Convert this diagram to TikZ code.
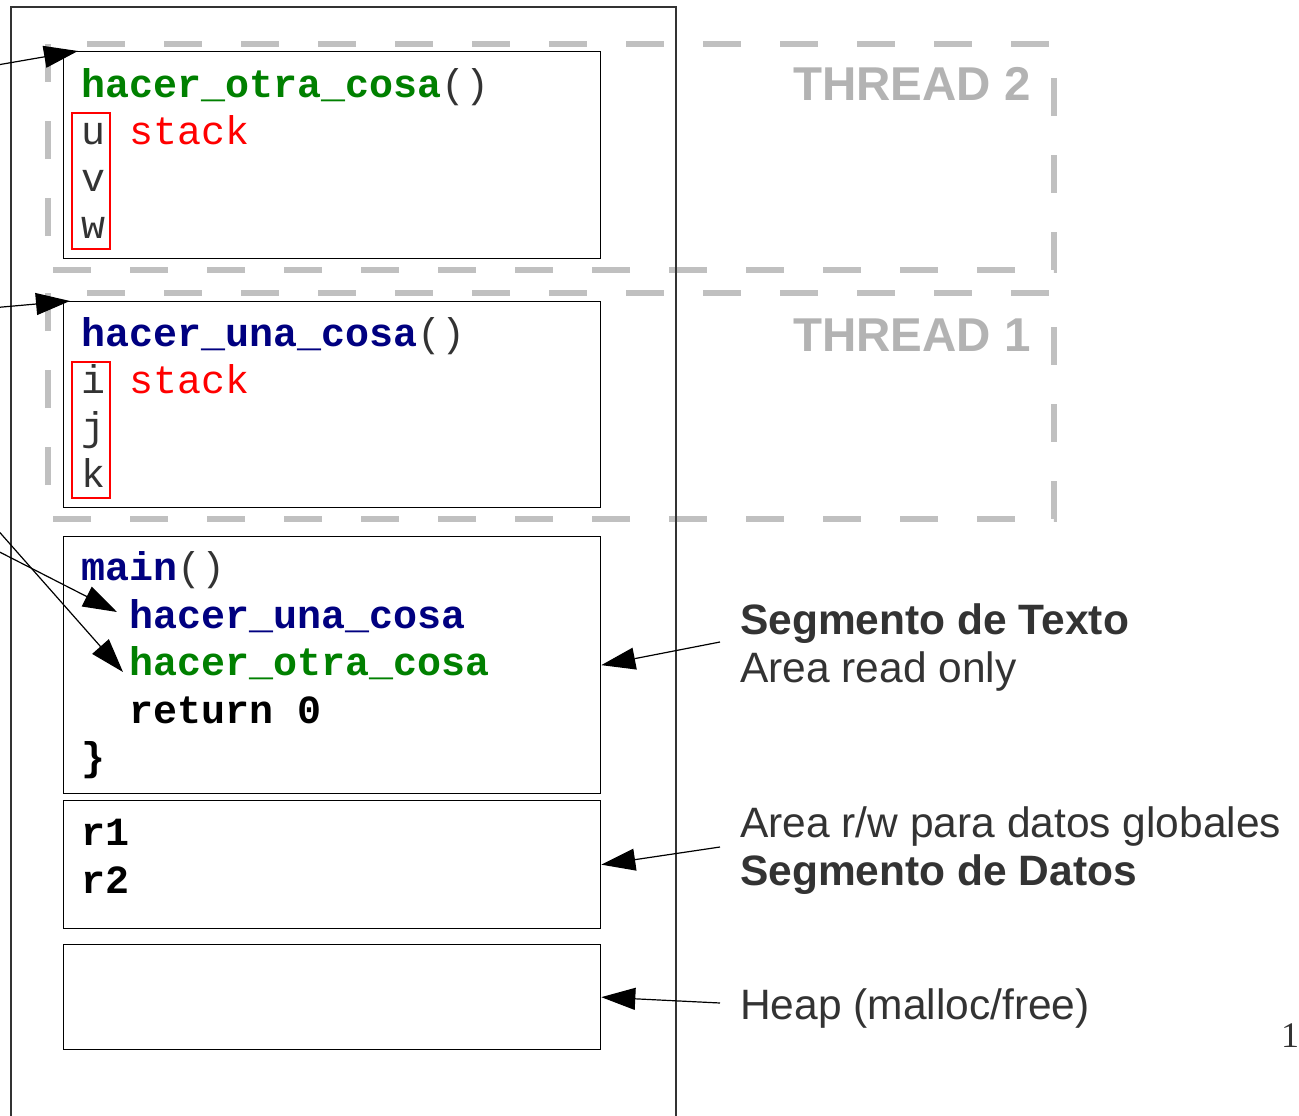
\documentclass[tikz,border=0pt]{standalone}
\usepackage{fontspec}
\usetikzlibrary{arrows.meta}
\setmainfont{Liberation Sans}
\newfontfamily\codefont{Liberation Mono}
\newfontfamily\pagefont{Liberation Serif}
\definecolor{ink}{HTML}{333333}
\definecolor{codegreen}{HTML}{008000}
\definecolor{codeblue}{HTML}{000080}
\definecolor{varred}{HTML}{FF0000}
\definecolor{dashgray}{HTML}{C0C0C0}
\definecolor{threadtext}{HTML}{B3B3B3}

\begin{document}
\begin{tikzpicture}[x=1pt, y=-1pt,
    seg/.style={draw, line width=1.3pt, minimum width=537pt, anchor=north west, inner sep=0pt},
    vars/.style={draw=varred, line width=1.6pt, minimum width=38pt, minimum height=136pt, anchor=north west, inner sep=0pt},
    code/.style={anchor=base west, inner sep=0pt, font=\codefont\fontsize{40}{47}\selectfont},
    note/.style={anchor=base west, inner sep=0pt, text=ink, font=\fontsize{42.5}{50}\selectfont},
    thread/.style={draw=dashgray, line width=6.3pt, dash pattern=on 38pt off 39pt, dash phase=38pt},
    threadlabel/.style={anchor=base east, inner sep=0pt, text=threadtext, font=\bfseries\fontsize{47.5}{55}\selectfont},
    ptr/.style={line width=1.2pt, -{Triangle[length=34pt,width=22pt]}}]
    \path[use as bounding box, clip] (0,0) rectangle (1299,1116);

    % Draw threads
    \draw[thread] (48,44) -- (1054,44) -- (1054,270) -- (48,270) -- cycle;
    \draw[thread] (48,293) -- (1054,293) -- (1054,519) -- (48,519) -- cycle;
    \node[threadlabel] (threadTwo) at (1031,100) {THREAD 2};
    \node[threadlabel] (threadOne) at (1031,351) {THREAD 1};

    % Draw memory
    \draw[draw=black!80, line width=1.1pt] (11,1130) -- (11,7) -- (676,7) -- (676,1130);
    \node[seg, minimum height=207pt] (otraStack) at (63,51) {};
    \node[seg, minimum height=206pt] (unaStack) at (63,301) {};
    \node[seg, minimum height=257pt] (textSeg) at (63,536) {};
    \node[seg, minimum height=128pt] (dataSeg) at (63,800) {};
    \node[seg, minimum height=105pt] (heapSeg) at (63,944) {};
    \node[vars] (otraVars) at (71,112) {};
    \node[vars] (unaVars) at (71,361) {};

    % Code
    \node[code, text=codegreen] (otraHead) at (81,97) {\bfseries hacer\_otra\_cosa\textcolor{ink}{\mdseries()}};
    \node[code, text=ink] (uLine) at (81,144) {u \textcolor{red}{stack}};
    \node[code, text=ink] (vLine) at (81,191) {v};
    \node[code, text=ink] (wLine) at (81,238) {w};
    \node[code, text=codeblue] (unaHead) at (81,346) {\bfseries hacer\_una\_cosa\textcolor{ink}{\mdseries()}};
    \node[code, text=ink] (iLine) at (81,393) {i \textcolor{red}{stack}};
    \node[code, text=ink] (jLine) at (81,440) {j};
    \node[code, text=ink] (kLine) at (81,487) {k};
    \node[code, text=codeblue] (mainHead) at (81,580) {\bfseries main\textcolor{ink}{\mdseries()}};
    \node[code, text=codeblue] (unaCall) at (129,628) {\bfseries hacer\_una\_cosa};
    \node[code, text=codegreen] (otraCall) at (129,675) {\bfseries hacer\_otra\_cosa};
    \node[code] (retLine) at (129,723) {\bfseries return 0};
    \node[code] (closeLine) at (81,770) {\bfseries \}};
    \node[code] (rOne) at (81,845) {\bfseries r1};
    \node[code] (rTwo) at (81,893) {\bfseries r2};

    % Labels
    \node[note] (textTitle) at (740,634) {\bfseries Segmento de Texto};
    \node[note] (textInfo) at (740,682) {Area read only};
    \node[note] (dataInfo) at (740,837) {Area r/w para datos globales};
    \node[note] (dataTitle) at (740,885) {\bfseries Segmento de Datos};
    \node[note] (heapInfo) at (740,1019) {Heap (malloc/free)};
    \node[anchor=base west, inner sep=0pt, text=ink, font=\pagefont\fontsize{36}{40}\selectfont] (pageNum) at (1281,1047) {1};

    % Draw connections
    \coordinate (callerOtra) at (-20,68);
    \coordinate (callerUna) at (-20,309);
    \coordinate (threadOtra) at (-20,510);
    \coordinate (threadUna) at (-20,542);
    \coordinate (fromTexto) at (720,642);
    \coordinate (fromDatos) at (720,847);
    \coordinate (fromHeap) at (720,1003);
    \draw[ptr] (callerOtra) -- ([xshift=15pt]otraStack.north west);
    \draw[ptr] (callerUna) -- ([xshift=7pt]unaStack.north west);
    \draw[ptr] (threadOtra) -- ([xshift=-6pt,yshift=3pt]otraCall.base west);
    \draw[ptr] (threadUna) -- ([xshift=-12pt,yshift=16pt]unaCall.base west);
    \draw[ptr] (fromTexto) -- (textSeg.east);
    \draw[ptr] (fromDatos) -- (dataSeg.east);
    \draw[ptr] (fromHeap) -- (heapSeg.east);
\end{tikzpicture}
\end{document}
